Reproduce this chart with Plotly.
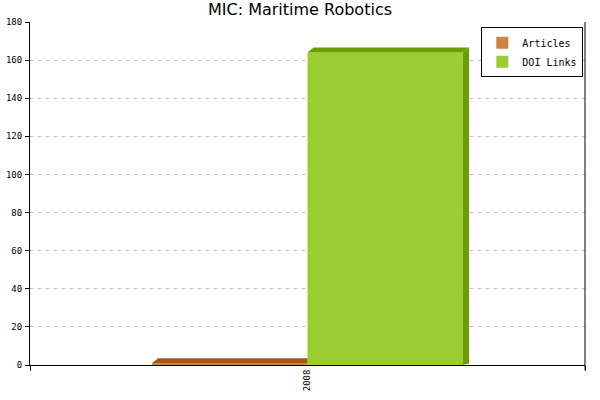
import plotly.graph_objs as go

# data
years = ["2008"]
series_names = ["Articles", "DOI Links"]
articles = [1]
doi_links = [164]

front_colors = ["#CD853F", "#9ACD32"]
depth_colors = ["#A0581A", "#6B9E00"]

bar_w = 0.28      # bar width in x units (category at 0, axis -0.5..0.5)
dx = 0.011        # 3d depth, x units
dy = 2.6          # 3d depth, y units

fig = go.Figure()

all_values = [articles, doi_links]
for i, (name, vals) in enumerate(zip(series_names, all_values)):
    offset = -bar_w + i * bar_w
    for j, v in enumerate(vals):
        x0 = j + offset
        x1 = x0 + bar_w
        # the articles top face is hidden behind the next bar past x1
        right = x1 + dx if i == len(series_names) - 1 else x1
        # top face
        fig.add_trace(go.Scatter(
            x=[x0, x0 + dx, right, x1, x0], y=[v, v + dy, v + dy, v, v],
            fill="toself", fillcolor=depth_colors[i], mode="lines",
            line=dict(width=0, color=depth_colors[i]),
            showlegend=False, hoverinfo="skip"))
        if i == len(series_names) - 1:
            # side face
            fig.add_trace(go.Scatter(
                x=[x1, x1 + dx, x1 + dx, x1, x1], y=[v, v + dy, dy * 0.3, 0, v],
                fill="toself", fillcolor=depth_colors[i], mode="lines",
                line=dict(width=0, color=depth_colors[i]),
                showlegend=False, hoverinfo="skip"))
    fig.add_trace(go.Bar(
        x=list(range(len(years))), y=vals, name=name,
        offset=offset, width=bar_w,
        marker=dict(color=front_colors[i], line=dict(width=0)),
        hoverinfo="skip"))

fig.update_layout(
    width=600, height=400,
    margin=dict(l=30, r=15, t=22, b=35),
    paper_bgcolor="white", plot_bgcolor="white",
    title=dict(text="MIC: Maritime Robotics", x=0.5, xanchor="center",
               y=0.99, yanchor="top",
               font=dict(family="DejaVu Sans", size=16, color="black")),
    barmode="overlay",
    showlegend=True,
    legend=dict(x=0.997, y=0.985, xanchor="right", yanchor="top",
                bordercolor="black", borderwidth=1, bgcolor="white",
                font=dict(family="DejaVu Sans Mono", size=10, color="black"),
                itemwidth=30, tracegroupgap=2),
    xaxis=dict(range=[-0.5, len(years) - 0.5], automargin=False,
               tickvals=list(range(len(years))), ticktext=years,
               tickangle=-90, ticks="", showgrid=False, zeroline=False,
               showline=True, linecolor="black", linewidth=1,
               tickfont=dict(family="DejaVu Sans Mono", size=9, color="black"),
               minor=dict(tickvals=[-0.5, len(years) - 0.5], ticks="outside",
                          ticklen=5, tickcolor="black", tickwidth=1,
                          showgrid=False)),
    yaxis=dict(range=[0, 180], dtick=20, ticks="outside", ticklen=4,
               tickcolor="black", tickwidth=1, automargin=False,
               ticklabelstandoff=1,
               showline=True, linecolor="black", linewidth=1,
               showgrid=True, gridcolor="#c0c0c0", griddash="3px,5px", gridwidth=1,
               zeroline=False,
               tickfont=dict(family="DejaVu Sans Mono", size=9, color="black")),
    shapes=[dict(type="line", xref="paper", yref="paper", x0=1, x1=1,
                 y0=-0.015, y1=1, line=dict(color="black", width=1))],
)

fig.write_html("out.html", config={"displayModeBar": False},
               post_script="document.body.style.margin='0';")
